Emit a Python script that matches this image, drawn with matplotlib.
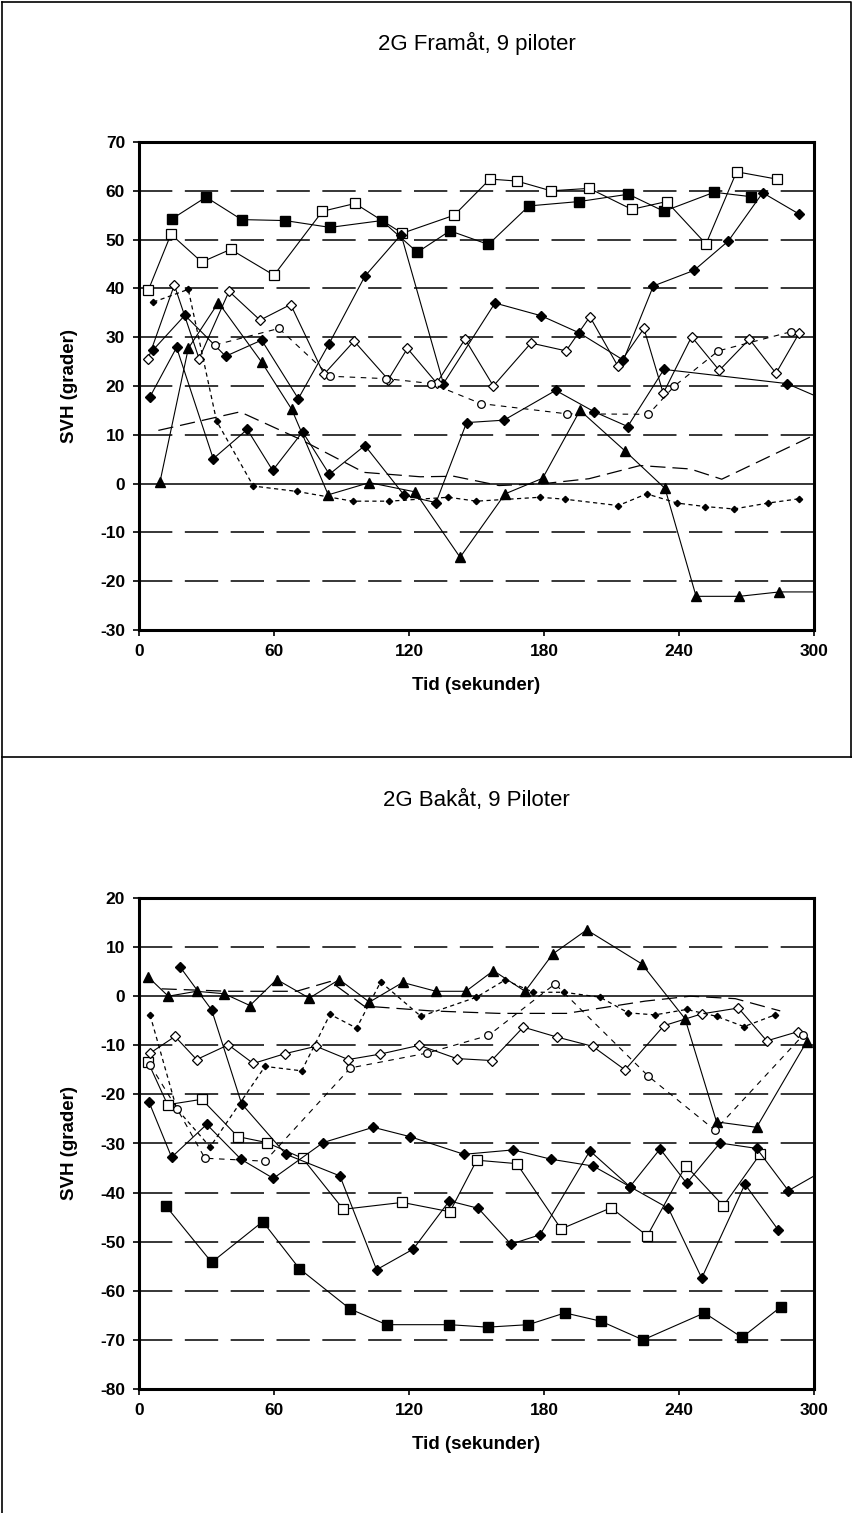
import matplotlib
matplotlib.use('Agg')
import matplotlib.pyplot as plt
from matplotlib.lines import Line2D

plt.rcParams['font.family'] = ['Liberation Sans', 'DejaVu Sans']
plt.rcParams['lines.scale_dashes'] = False
plt.rcParams['axes.unicode_minus'] = False

# ---- 2G Framåt (top chart) ----
fw_sqf_t = [14.5, 29.8, 45.6, 64.9, 84.9, 107.9, 123.7, 138.2, 155.3, 173.3, 195.6, 217.5, 233.3, 255.6, 271.9]
fw_sqf_v = [54.2, 58.7, 54.1, 53.9, 52.5, 53.9, 47.4, 51.8, 49.0, 56.9, 57.8, 59.3, 55.8, 59.7, 58.8]
fw_sqo_t = [4.1, 14.2, 27.9, 40.7, 60.0, 81.5, 96.0, 117.0, 140.1, 156.0, 167.9, 183.1, 200.1, 219.0, 234.5, 252.0, 265.6, 283.4]
fw_sqo_v = [39.6, 51.1, 45.4, 48.0, 42.7, 55.8, 57.4, 51.3, 55.0, 62.4, 62.0, 60.0, 60.5, 56.2, 57.8, 49.1, 63.9, 62.4]
fw_d1_t = [4.9, 16.7, 33.0, 48.1, 59.4, 72.7, 84.6, 100.4, 117.9, 132.0, 145.6, 162.2, 185.2, 202.4, 217.2, 233.3, 287.9, 305.0]
fw_d1_v = [17.8, 27.9, 5.1, 11.1, 2.7, 10.6, 1.9, 7.8, -2.4, -3.9, 12.5, 13.0, 19.1, 14.7, 11.7, 23.4, 20.5, 17.1]
fw_d2_t = [6.1, 20.4, 38.5, 54.5, 70.8, 84.4, 100.4, 116.5, 135.3, 158.2, 178.7, 195.6, 215.3, 228.6, 246.7, 261.9, 277.2, 293.5]
fw_d2_v = [27.3, 34.5, 26.1, 29.4, 17.4, 28.6, 42.5, 51.0, 20.5, 37.0, 34.4, 30.9, 25.3, 40.5, 43.7, 49.7, 59.6, 55.2]
fw_tri_t = [9.3, 21.9, 35.3, 54.5, 67.9, 84.1, 102.4, 122.7, 142.7, 162.7, 179.4, 196.0, 216.0, 233.8, 247.6, 266.8, 284.6, 305.0]
fw_tri_v = [0.3, 27.7, 37.1, 24.9, 15.2, -2.3, 0.2, -1.7, -15.1, -2.1, 1.1, 15.0, 6.7, -1.0, -23.1, -23.1, -22.2, -22.2]
fw_dio_t = [4.1, 15.7, 26.7, 40.0, 53.8, 67.4, 82.2, 95.6, 110.8, 119.3, 132.3, 144.9, 157.5, 174.2, 189.8, 200.4,
            212.8, 224.4, 233.0, 245.6, 257.9, 271.3, 283.1, 293.5]
fw_dio_v = [25.6, 40.7, 25.6, 39.4, 33.5, 36.7, 22.4, 29.2, 21.3, 27.7, 20.6, 29.6, 20.0, 28.8, 27.2, 34.2,
            24.1, 31.8, 18.5, 30.1, 23.2, 29.6, 22.6, 30.9]
fw_sml_t = [6.4, 21.9, 34.5, 50.8, 70.1, 95.0, 111.3, 137.5, 150.0, 178.2, 189.3, 213.0, 225.6, 239.3, 251.6, 264.4, 279.4, 293.5]
fw_sml_v = [37.2, 39.8, 12.8, -0.5, -1.6, -3.6, -3.6, -2.8, -3.6, -2.8, -3.2, -4.5, -2.1, -4.0, -4.7, -5.2, -4.0, -3.1]
fw_cir_t = [33.8, 62.2, 85.0, 110.0, 130.0, 151.9, 190.1, 226.4, 238.0, 257.5, 289.6]
fw_cir_v = [28.4, 31.8, 22.0, 21.5, 20.5, 16.4, 14.3, 14.2, 20.0, 27.2, 31.1]
fw_ld_t = [8.6, 44.9, 72.0, 100.0, 125.0, 140.0, 160.0, 180.0, 200.0, 222.7, 245.0, 259.0, 289.0, 305.0]
fw_ld_v = [10.9, 14.7, 9.0, 2.3, 1.4, 1.5, -0.4, 0.0, 1.0, 3.7, 3.0, 0.9, 7.5, 11.0]

# ---- 2G Bakåt (bottom chart) ----
bk_sqf_t = [11.9, 32.3, 55.0, 71.3, 93.8, 110.1, 137.9, 155.0, 173.0, 189.3, 205.3, 224.0, 251.3, 268.0, 285.2]
bk_sqf_v = [-42.7, -54.2, -45.9, -55.5, -63.7, -66.9, -66.9, -67.4, -66.9, -64.5, -66.2, -70.0, -64.5, -69.5, -63.3]
bk_sqo_t = [4.1, 12.7, 27.9, 43.9, 56.7, 72.7, 90.8, 117.0, 138.2, 150.1, 167.9, 187.6, 209.8, 225.9, 243.0, 259.7, 276.0]
bk_sqo_v = [-13.5, -22.1, -21.0, -28.6, -29.8, -33.0, -43.4, -42.0, -43.9, -33.4, -34.1, -47.4, -43.1, -48.8, -34.5, -42.7, -32.2]
bk_d1_t = [4.4, 14.5, 30.1, 45.3, 59.7, 81.9, 104.1, 120.4, 144.4, 166.4, 183.1, 201.9, 218.2, 231.6, 243.4, 258.2, 274.5, 288.6, 310.0]
bk_d1_v = [-21.5, -32.8, -26.1, -33.2, -37.1, -29.8, -26.7, -28.6, -32.2, -31.3, -33.2, -34.6, -38.8, -31.1, -38.1, -29.9, -31.0, -39.6, -34.0]
bk_d2_t = [18.2, 32.3, 45.6, 65.3, 89.3, 105.6, 121.9, 137.9, 150.8, 165.3, 178.2, 200.4, 218.2, 235.3, 250.1, 269.3, 284.1]
bk_d2_v = [6.0, -2.8, -21.9, -32.2, -36.6, -55.7, -51.5, -41.7, -43.2, -50.5, -48.6, -31.5, -38.8, -43.2, -57.4, -38.3, -47.6]
bk_tri_t = [4.1, 13.0, 25.6, 37.9, 49.3, 61.2, 75.7, 89.0, 102.4, 117.2, 132.0, 145.3, 157.5, 171.6, 183.9, 199.0,
            223.4, 242.7, 256.7, 274.5, 296.7]
bk_tri_v = [3.9, 0.0, 1.0, 0.5, -1.9, 3.4, -0.4, 3.4, -1.2, 2.8, 1.0, 1.0, 5.2, 1.0, 8.6, 13.5,
            6.6, -4.6, -25.6, -26.7, -9.3]
bk_dio_t = [4.9, 16.0, 25.6, 39.7, 50.8, 64.9, 78.7, 93.0, 107.1, 124.6, 141.2, 156.7, 170.8, 185.6, 201.6,
            216.0, 233.3, 250.1, 266.4, 279.0, 293.0]
bk_dio_v = [-11.6, -8.2, -12.9, -9.9, -13.7, -11.7, -10.2, -12.9, -11.8, -10.0, -12.7, -13.1, -6.3, -8.3, -10.2,
            -15.0, -6.0, -3.6, -2.4, -9.1, -7.2]
bk_sml_t = [4.9, 16.7, 31.6, 56.0, 72.3, 84.9, 96.7, 107.4, 125.3, 150.0, 162.7, 175.3, 188.9, 204.9,
            217.5, 229.3, 243.4, 256.7, 268.9, 282.7]
bk_sml_v = [-3.8, -22.9, -30.7, -14.3, -15.2, -3.7, -6.5, 2.9, -4.1, -0.2, 3.3, 0.8, 0.8, -0.2,
            -3.4, -3.8, -2.7, -4.1, -6.2, -3.8]
bk_cir_t = [5.0, 17.0, 29.3, 56.0, 94.0, 127.9, 155.3, 184.9, 226.4, 256.0, 295.0]
bk_cir_v = [-14.0, -23.0, -33.0, -33.6, -14.6, -11.6, -8.0, 2.5, -16.3, -27.3, -8.0]
bk_ld_t = [10.0, 40.0, 70.0, 85.0, 100.0, 130.0, 160.0, 190.0, 225.0, 245.0, 265.0, 285.0]
bk_ld_v = [1.5, 1.0, 1.0, 3.0, -2.0, -3.0, -3.5, -3.5, -1.0, 0.0, -0.5, -3.0]

x_ticks = [0, 60, 120, 180, 240, 300]

fig = plt.figure(figsize=(8.53, 15.13), dpi=100)

# frame lines around the two charts
fig.add_artist(Line2D([2/853, 851/853, 851/853], [1-2/1513, 1-2/1513, 1-757/1513], color='black', lw=1.2))
fig.add_artist(Line2D([2/853, 2/853], [1-2/1513, 0], color='black', lw=1.2))
fig.add_artist(Line2D([2/853, 853/853], [1-757/1513, 1-757/1513], color='black', lw=1.2))


def draw_chart(ax, title, ylim, yticks, data):
    ax.set_xlim(0, 300)
    ax.set_ylim(*ylim)
    for y in yticks:
        if y == 0:
            ax.axhline(0, color='black', lw=1.1, zorder=1)
        elif y not in ylim:
            ax.axhline(y, color='black', lw=1.1, dashes=(24, 9), zorder=1)
    (sqf, sqo, d1, d2, tri, dio, sml, cir, ld) = data
    solid = dict(color='black', lw=0.8, zorder=3, clip_on=True)
    ax.plot(*sqf, marker='s', ms=7, mfc='black', mec='black', **solid)
    ax.plot(*sqo, marker='s', ms=7, mfc='white', mec='black', mew=0.9, **solid)
    ax.plot(*d1, marker='D', ms=5.5, mfc='black', mec='black', **solid)
    ax.plot(*d2, marker='D', ms=5.5, mfc='black', mec='black', **solid)
    ax.plot(*tri, marker='^', ms=7.5, mfc='black', mec='black', **solid)
    ax.plot(*dio, marker='D', ms=5.5, mfc='white', mec='black', mew=0.9, **solid)
    ax.plot(*sml, marker='D', ms=3.2, mfc='black', mec='black', color='black', lw=0.9,
            dashes=(3, 2.5), zorder=3)
    ax.plot(*cir, marker='o', ms=5.5, mfc='white', mec='black', mew=0.9, color='black', lw=0.8,
            dashes=(4, 4), zorder=3)
    ax.plot(*ld, color='black', lw=0.9, dashes=(11, 5), zorder=2)

    ax.set_xticks(x_ticks)
    ax.set_yticks(yticks)
    ax.tick_params(direction='out', length=4, width=1.2, labelsize=12.5, pad=6)
    for lab in ax.get_xticklabels() + ax.get_yticklabels():
        lab.set_fontweight('bold')
    for s in ax.spines.values():
        s.set_linewidth(2.2)
    ax.set_xlabel('Tid (sekunder)', fontsize=13.5, fontweight='bold', labelpad=13)
    ax.set_ylabel('SVH (grader)', fontsize=13.5, fontweight='bold', labelpad=16)
    ax.set_title(title, fontsize=16, pad=66)


ax1 = fig.add_axes([139/853, 1-630/1513, 675/853, 488/1513])
draw_chart(ax1, '2G Framåt, 9 piloter', (-30, 70), list(range(-30, 71, 10)),
           [(fw_sqf_t, fw_sqf_v), (fw_sqo_t, fw_sqo_v), (fw_d1_t, fw_d1_v), (fw_d2_t, fw_d2_v),
            (fw_tri_t, fw_tri_v), (fw_dio_t, fw_dio_v), (fw_sml_t, fw_sml_v), (fw_cir_t, fw_cir_v),
            (fw_ld_t, fw_ld_v)])

ax2 = fig.add_axes([139/853, 1-1389/1513, 675/853, 491/1513])
draw_chart(ax2, '2G Bakåt, 9 Piloter', (-80, 20), list(range(-80, 21, 10)),
           [(bk_sqf_t, bk_sqf_v), (bk_sqo_t, bk_sqo_v), (bk_d1_t, bk_d1_v), (bk_d2_t, bk_d2_v),
            (bk_tri_t, bk_tri_v), (bk_dio_t, bk_dio_v), (bk_sml_t, bk_sml_v), (bk_cir_t, bk_cir_v),
            (bk_ld_t, bk_ld_v)])

fig.savefig('out.png', dpi=100)
